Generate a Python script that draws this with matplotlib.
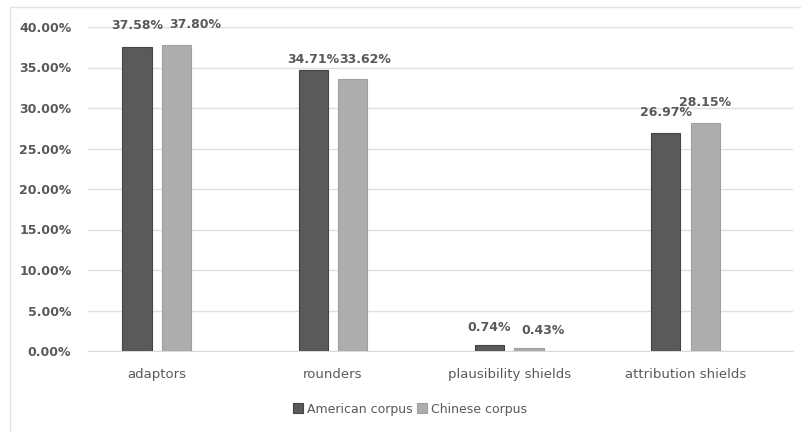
import matplotlib
import numpy as np

matplotlib.use("Agg")
import matplotlib.pyplot as plt
from matplotlib.lines import Line2D

categories = ["adaptors", "rounders", "plausibility shields", "attribution shields"]
american = [37.58, 34.71, 0.74, 26.97]
chinese = [37.80, 33.62, 0.43, 28.15]
series_names = ["American corpus", "Chinese corpus"]

DARK = "#5a5a5a"
LIGHT = "#adadad"
TEXT = "#595959"

# label nudges in pixels (dx, dy above bar top), as placed in the original
american_offsets = [(0, 21), (0, 10), (0, 18), (0, 20)]
chinese_offsets = [(19, 20), (12, 19), (14, 17), (0, 20)]

fig = plt.figure(figsize=(8.01, 4.32), dpi=100)
ax = fig.add_axes([88 / 801, 1 - 351 / 432, (793 - 88) / 801, (351 - 27) / 432])

# chart border: only top and left edges show in the original crop
border = dict(transform=fig.transFigure, color="#e3e3e3", linewidth=1)
fig.lines.append(Line2D([10 / 801, 1], [1 - 7 / 432, 1 - 7 / 432], **border))
fig.lines.append(Line2D([10 / 801, 10 / 801], [0, 1 - 7 / 432], **border))

x = np.arange(len(categories))
width = 0.165
shift = 0.112

bars_a = ax.bar(x - shift, american, width, color=DARK, edgecolor="#444444",
                linewidth=0.8, label=series_names[0], zorder=3)
bars_c = ax.bar(x + shift, chinese, width, color=LIGHT, edgecolor="#a0a0a0",
                linewidth=0.8, label=series_names[1], zorder=3)

for bars, values, offsets in [(bars_a, american, american_offsets),
                              (bars_c, chinese, chinese_offsets)]:
    for bar, v, (dx, dy) in zip(bars, values, offsets):
        ax.annotate(f"{v:.2f}%", (bar.get_x() + bar.get_width() / 2, v),
                    xytext=(dx, dy), textcoords="offset pixels",
                    ha="center", va="center", fontsize=9, color=TEXT,
                    fontweight="bold", annotation_clip=False)

ax.set_xlim(-0.39, 3.61)
ax.set_ylim(0, 40)
ax.set_yticks(np.arange(0, 41, 5))
ax.set_yticklabels([f"{t:.2f}%" for t in np.arange(0, 41, 5)], fontweight="bold")
ax.set_xticks(x)
ax.set_xticklabels(categories)
ax.tick_params(axis="both", length=0, colors=TEXT, labelsize=9.5)
ax.tick_params(axis="y", pad=12, labelsize=9)
ax.tick_params(axis="x", pad=12)
ax.grid(axis="y", color="#e0e0e0", linewidth=1, zorder=0)
for side in ["top", "right", "left"]:
    ax.spines[side].set_visible(False)
ax.spines["bottom"].set_color("#d9d9d9")

fig.legend(handles=[bars_a, bars_c], labels=series_names, loc="center",
           bbox_to_anchor=(410 / 801, 1 - 409 / 432), ncol=2, frameon=False,
           fontsize=9, handlelength=0.8, handleheight=0.8, handletextpad=0.3,
           columnspacing=0.4, labelcolor=TEXT)

fig.savefig("out.png", dpi=100)
